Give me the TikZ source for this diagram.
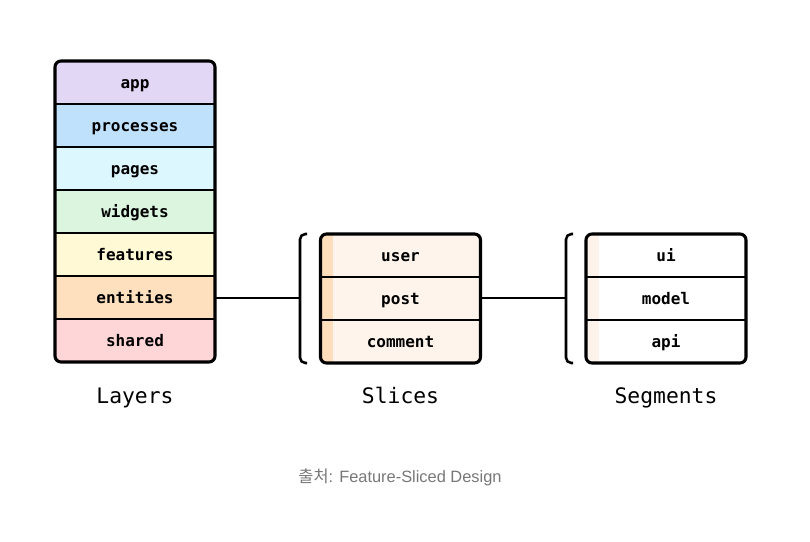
\documentclass[tikz,border=0pt]{standalone}
\usepackage{fontspec}
\setmainfont{Liberation Sans}
\setmonofont{DejaVu Sans Mono}
\newfontfamily\krfont{Noto Sans CJK KR}
\usetikzlibrary{positioning}

\definecolor{appc}{HTML}{E3D7F6}
\definecolor{procc}{HTML}{BFE1FC}
\definecolor{pagec}{HTML}{DDF7FE}
\definecolor{widgc}{HTML}{DBF5DF}
\definecolor{featc}{HTML}{FFF9D6}
\definecolor{entc}{HTML}{FEE0BF}
\definecolor{sharc}{HTML}{FFD6D7}
\definecolor{slicec}{HTML}{FEF4EB}
\definecolor{stripec}{HTML}{FEDDBC}
\definecolor{segstripec}{HTML}{FEF3EA}
\definecolor{captionc}{HTML}{777777}

\tikzset{
    cell/.style = {rectangle, minimum width=120pt, minimum height=32.25pt, inner sep=0pt, outer sep=0pt, text height=9.3pt, text depth=1pt, text centered, font=\ttfamily\bfseries\fontsize{12}{14}\selectfont},
    frame/.style = {line width=2.3pt, rounded corners=4.5pt},
    sep/.style = {line width=1.9pt},
    link/.style = {line width=1.9pt},
    brace/.style = {line width=1.9pt, rounded corners=4pt},
    title/.style = {font=\ttfamily\fontsize{16}{18}\selectfont, text height=10pt, text depth=3pt}
}

\begin{document}
\begin{tikzpicture}[x=0.75pt, y=-0.75pt]
    \useasboundingbox (0,0) rectangle (810,542);

    % Layers
    \begin{scope}
        \clip[rounded corners=4.5pt] (55,61) rectangle (215,362);
        \node[cell, fill=appc] (app) at (135,82.5) {app};
        \node[cell, fill=procc, below=0pt of app] (processes) {processes};
        \node[cell, fill=pagec, below=0pt of processes] (pages) {pages};
        \node[cell, fill=widgc, below=0pt of pages] (widgets) {widgets};
        \node[cell, fill=featc, below=0pt of widgets] (features) {features};
        \node[cell, fill=entc, below=0pt of features] (entities) {entities};
        \node[cell, fill=sharc, below=0pt of entities] (shared) {shared};
    \end{scope}
    \draw[sep] (app.south west) -- (app.south east);
    \draw[sep] (processes.south west) -- (processes.south east);
    \draw[sep] (pages.south west) -- (pages.south east);
    \draw[sep] (widgets.south west) -- (widgets.south east);
    \draw[sep] (features.south west) -- (features.south east);
    \draw[sep] (entities.south west) -- (entities.south east);
    \draw[frame] (app.north west) rectangle (shared.south east);

    % Slices
    \begin{scope}
        \clip[rounded corners=4.5pt] (320,234) rectangle (481,363);
        \fill[slicec] (320,234) rectangle (481,363);
        \fill[stripec] (320,234) rectangle (333,363);
        \node[cell] (user) at (400.5,255.5) {user};
        \node[cell, below=0pt of user] (post) {post};
        \node[cell, below=0pt of post] (comment) {comment};
    \end{scope}
    \draw[sep] (user.south west) -- (user.south east);
    \draw[sep] (post.south west) -- (post.south east);
    \draw[frame] (user.north west) rectangle (comment.south east);

    % Segments
    \begin{scope}
        \clip[rounded corners=4.5pt] (586,234) rectangle (746,363);
        \fill[white] (586,234) rectangle (746,363);
        \fill[segstripec] (586,234) rectangle (599,363);
        \node[cell] (ui) at (666,255.5) {ui};
        \node[cell, below=0pt of ui] (model) {model};
        \node[cell, below=0pt of model] (api) {api};
    \end{scope}
    \draw[sep] (ui.south west) -- (ui.south east);
    \draw[sep] (model.south west) -- (model.south east);
    \draw[frame] (ui.north west) rectangle (api.south east);

    % Brackets
    \draw[brace] (307,234) -- (300,234) -- (300,363) -- (307,363);
    \draw[brace] (573,234) -- (566,234) -- (566,363) -- (573,363);
    \coordinate (slicebrk) at (300,298);
    \coordinate (segbrk) at (566,298);

    % Links
    \draw[link] (entities.east |- slicebrk) -- (slicebrk);
    \draw[link] (post.east |- segbrk) -- (segbrk);

    % Titles
    \node[title] (layerstitle) at (135,399) {Layers};
    \node[title] (slicestitle) at (400.5,399) {Slices};
    \node[title] (segmentstitle) at (666,399) {Segments};

    % Caption
    \node[text=captionc, font=\fontsize{12.3}{14}\selectfont] (caption) at (400,477) {{\krfont 출처}: Feature-Sliced Design};
\end{tikzpicture}
\end{document}
